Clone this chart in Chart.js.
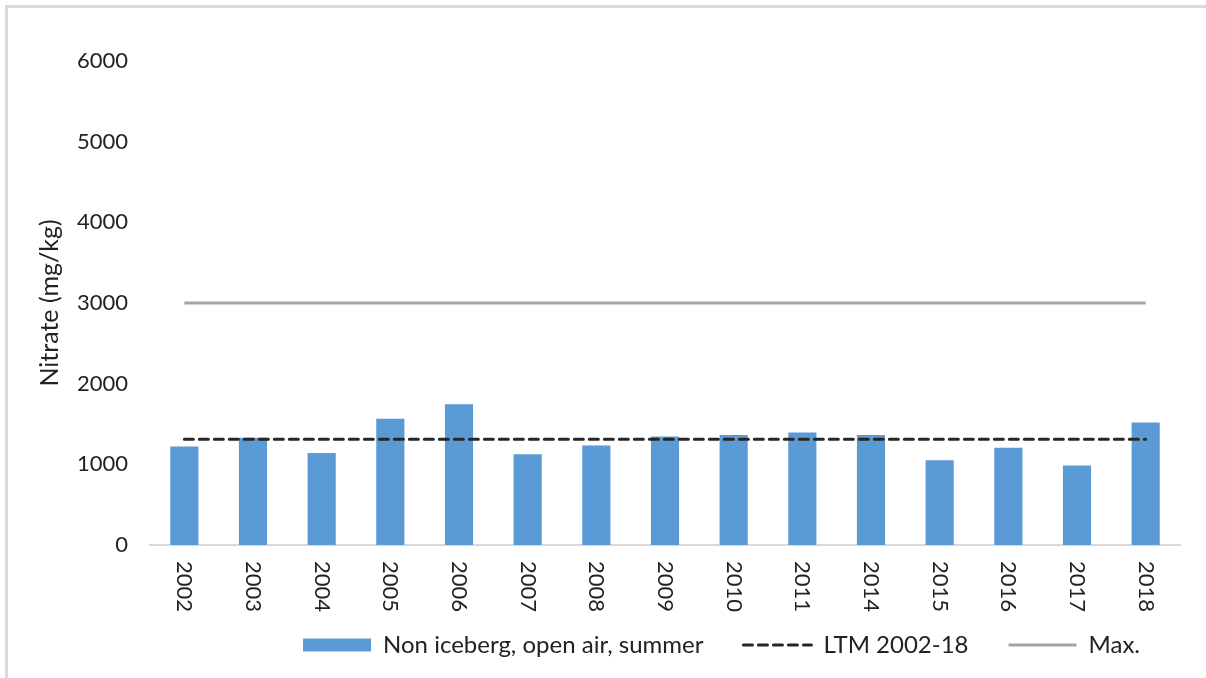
<!DOCTYPE html>
<html>
<head>
<meta charset="utf-8">
<title>Nitrate</title>
<script src="https://cdn.jsdelivr.net/npm/chart.js@4.4.1/dist/chart.umd.min.js"></script>
<style>
  html, body { margin: 0; padding: 0; background: #fff; overflow: hidden; }
  #frame { position: absolute; left: 5px; top: 5px; width: 1300px; height: 800px; border: 3px solid #d9d9d9; }
  #myChart1 { position: absolute; left: 0; top: 0; }
</style>
</head>
<body>
<div id="frame"></div>
<canvas id="myChart1" width="1206" height="678"></canvas>
<script>
  // values
  const years = ['2002', '2003', '2004', '2005', '2006', '2007', '2008', '2009',
                 '2010', '2011', '2014', '2015', '2016', '2017', '2018'];
  const nitrate = [1220, 1330, 1140, 1565, 1745, 1125, 1235, 1345,
                   1365, 1395, 1365, 1050, 1205, 985, 1520];
  const ltm = [1310, 1310, 1310, 1310, 1310, 1310, 1310, 1310,
               1310, 1310, 1310, 1310, 1310, 1310, 1310];
  const maxLine = [3000, 3000, 3000, 3000, 3000, 3000, 3000, 3000,
                   3000, 3000, 3000, 3000, 3000, 3000, 3000];
  const yTicks = [0, 1000, 2000, 3000, 4000, 5000, 6000];

  const fontFamily = 'Lato, "Liberation Sans", sans-serif';
  const textColor = '#222';

  // x labels read top to bottom (rotated clockwise), so draw them here
  const xLabels = {
    id: 'xLabels',
    afterDraw(chart) {
      const ctx = chart.ctx;
      const xs = chart.scales.x;
      ctx.save();
      ctx.font = '22px ' + fontFamily;
      ctx.fillStyle = textColor;
      ctx.textAlign = 'left';
      ctx.textBaseline = 'middle';
      years.forEach((yr, i) => {
        ctx.save();
        ctx.translate(xs.getPixelForTick(i), chart.chartArea.bottom + 16);
        ctx.rotate(Math.PI / 2);
        ctx.fillText(yr, 0, 0);
        ctx.restore();
      });
      ctx.restore();
    }
  };

  window.addEventListener('load', setup);

  function setup() {
    const ctx = document.getElementById('myChart1').getContext('2d');
    new Chart(ctx, {
      type: 'bar',
      data: {
        labels: years,
        datasets: [
          {
            label: 'Non iceberg, open air, summer',
            data: nitrate,
            backgroundColor: '#5b9bd5',
            borderWidth: 0,
            categoryPercentage: 1,
            barPercentage: 0.41,
            order: 3
          },
          {
            type: 'line',
            label: 'LTM 2002-18',
            data: ltm,
            borderColor: '#262626',
            borderWidth: 3,
            borderDash: [9, 6],
            borderCapStyle: 'round',
            pointRadius: 0,
            fill: false,
            order: 1
          },
          {
            type: 'line',
            label: 'Max.',
            data: maxLine,
            borderColor: '#a5a5a5',
            borderWidth: 3,
            pointRadius: 0,
            fill: false,
            order: 2
          }
        ]
      },
      options: {
        responsive: false,
        animation: false,
        layout: { padding: { top: 61, left: 6, right: 26, bottom: 11 } },
        plugins: {
          tooltip: { enabled: false },
          legend: {
            position: 'bottom',
            align: 'end',
            fullSize: false,
            labels: {
              font: { family: fontFamily, size: 24 },
              color: textColor,
              usePointStyle: true,
              pointStyleWidth: 68,
              boxHeight: 13,
              padding: 40,
              sort: (a, b) => a.datasetIndex - b.datasetIndex,
              generateLabels(chart) {
                const items = Chart.defaults.plugins.legend.labels.generateLabels(chart);
                items.forEach(it => {
                  const ds = chart.data.datasets[it.datasetIndex];
                  if (ds.type === 'line') {
                    it.pointStyle = 'line';
                    it.lineWidth = ds.borderWidth;
                    it.lineDash = ds.borderDash || [];
                    it.lineCap = ds.borderCapStyle || 'butt';
                    it.strokeStyle = ds.borderColor;
                  } else {
                    it.pointStyle = 'rect';
                    it.lineWidth = 0;
                    it.fillStyle = ds.backgroundColor;
                  }
                });
                return items;
              }
            }
          }
        },
        scales: {
          x: {
            grid: { display: false, drawTicks: false },
            border: { display: true, color: '#d9d9d9', width: 2 },
            ticks: { display: false },
            afterFit(scale) { scale.height = 48; }
          },
          y: {
            min: 0,
            max: 6000,
            afterBuildTicks(scale) { scale.ticks = yTicks.map(v => ({ value: v })); },
            grid: { display: false, drawTicks: false },
            border: { display: false },
            ticks: {
              padding: 22,
              color: textColor,
              font: { family: fontFamily, size: 22 },
              callback: v => String(v)
            },
            title: {
              display: true,
              text: 'Nitrate (mg/kg)',
              color: textColor,
              font: { family: fontFamily, size: 25 },
              padding: { top: 29, bottom: 0 }
            },
            afterFit(scale) { scale.width = 144; }
          }
        }
      },
      plugins: [xLabels]
    });
  }
</script>
</body>
</html>
